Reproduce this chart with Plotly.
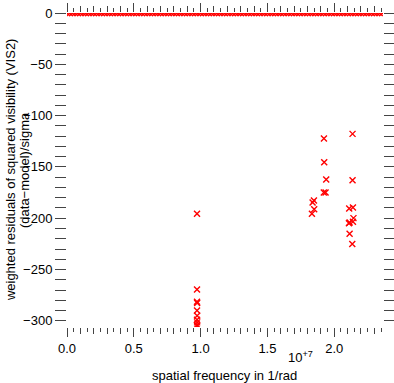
import plotly.graph_objects as go

# spatial frequency in units of 1e7 1/rad, residuals (data-model)/sigma
freq_zero = [0.00, 0.02, 0.04, 0.06, 0.08, 0.10, 0.12, 0.14, 0.16, 0.18,
             0.20, 0.22, 0.24, 0.26, 0.28, 0.30, 0.32, 0.34, 0.36, 0.38,
             0.40, 0.42, 0.44, 0.46, 0.48, 0.50, 0.52, 0.54, 0.56, 0.58,
             0.60, 0.62, 0.64, 0.66, 0.68, 0.70, 0.72, 0.74, 0.76, 0.78,
             0.80, 0.82, 0.84, 0.86, 0.88, 0.90, 0.92, 0.94, 0.96, 0.98,
             1.00, 1.02, 1.04, 1.06, 1.08, 1.10, 1.12, 1.14, 1.16, 1.18,
             1.20, 1.22, 1.24, 1.26, 1.28, 1.30, 1.32, 1.34, 1.36, 1.38,
             1.40, 1.42, 1.44, 1.46, 1.48, 1.50, 1.52, 1.54, 1.56, 1.58,
             1.60, 1.62, 1.64, 1.66, 1.68, 1.70, 1.72, 1.74, 1.76, 1.78,
             1.80, 1.82, 1.84, 1.86, 1.88, 1.90, 1.92, 1.94, 1.96, 1.98,
             2.00, 2.02, 2.04, 2.06, 2.08, 2.10, 2.12, 2.14, 2.16, 2.18,
             2.20, 2.22, 2.24, 2.26, 2.28, 2.30, 2.32, 2.34, 2.36]
resid_zero = [0.0 for _ in freq_zero]

freq_a = [0.973, 0.973, 0.973, 0.974, 0.973, 0.974, 0.973, 0.974, 0.973, 0.974]
resid_a = [-195.7, -269.4, -281.4, -282.5, -290.0, -295.0, -299.0, -301.5, -303.8, -305.0]

freq_b = [1.848, 1.838, 1.850, 1.833]
resid_b = [-182.7, -184.7, -191.2, -195.7]

freq_c = [1.923, 1.925, 1.940, 1.922, 1.935]
resid_c = [-122.4, -145.4, -162.3, -175.0, -175.0]

freq_d = [2.137, 2.137, 2.112, 2.140, 2.144, 2.115, 2.140, 2.110, 2.115, 2.135]
resid_d = [-117.8, -162.9, -190.5, -189.6, -199.9, -204.2, -203.5, -205.0, -215.2, -225.2]

x_tickvals = [0.0, 0.5, 1.0, 1.5, 2.0]
x_ticktext = ["0.0", "0.5", "1.0", "1.5", "2.0"]
y_tickvals = [0, -50, -100, -150, -200, -250, -300]

x_all = freq_zero + freq_a + freq_b + freq_c + freq_d
y_all = resid_zero + resid_a + resid_b + resid_c + resid_d

RED = "#ff0000"
TICK = "#444444"
FONT = "Liberation Sans, Arial, Helvetica, sans-serif"

fig = go.Figure()
fig.add_trace(go.Scatter(
    x=x_all, y=y_all, mode="markers", cliponaxis=True,
    marker=dict(symbol="x-thin", size=6, line=dict(color=RED, width=1.4), color=RED),
    hoverinfo="skip",
))
# helper trace for the finest tick layer
fig.add_trace(go.Scatter(x=[None], y=[None], xaxis="x2", yaxis="y", mode="markers",
                         showlegend=False, hoverinfo="skip"))

X_RANGE = [0, 2.365]
Y_RANGE = [-306, 0]

fig.update_layout(
    width=394, height=383,
    margin=dict(l=67, r=11, t=13, b=56, autoexpand=False),
    plot_bgcolor="white", paper_bgcolor="white",
    showlegend=False,
    font=dict(family=FONT, size=13, color="black"),
    xaxis=dict(
        range=X_RANGE, showgrid=False, zeroline=False, showline=False,
        automargin=False,
        ticks="outside", ticklen=9, tickwidth=1, tickcolor=TICK,
        mirror="allticks",
        tickmode="array", tickvals=x_tickvals, ticktext=x_ticktext,
        minor=dict(dtick=0.1, tick0=0, ticks="outside", ticklen=6,
                   tickcolor=TICK, tickwidth=1, showgrid=False),
        tickfont=dict(size=13, color="black"),
    ),
    xaxis2=dict(
        overlaying="x", anchor="y", side="bottom", automargin=False,
        range=X_RANGE, showgrid=False, zeroline=False, showline=False,
        ticks="outside", ticklen=4, tickwidth=1, tickcolor=TICK,
        mirror="allticks", dtick=0.05, tick0=0, showticklabels=False,
    ),
    yaxis=dict(
        range=Y_RANGE, showgrid=False, zeroline=False, showline=False,
        automargin=False,
        ticks="outside", ticklen=11, tickwidth=1, tickcolor=TICK,
        mirror="allticks",
        tickmode="array", tickvals=y_tickvals,
        minor=dict(dtick=10, tick0=0, ticks="outside", ticklen=7,
                   tickcolor=TICK, tickwidth=1, showgrid=False),
        tickfont=dict(size=13, color="black"),
    ),
    annotations=[
        dict(text="10<sup>+7</sup>", xref="paper", yref="paper",
             x=0.74, y=-0.0955, xanchor="center", yanchor="middle",
             showarrow=False, font=dict(size=13, color="black")),
        dict(text="spatial frequency in 1/rad", xref="paper", yref="paper",
             x=0.497, y=-0.153, xanchor="center", yanchor="middle",
             showarrow=False, font=dict(size=13, color="black")),
        dict(text="weighted residuals of squared visibility (VIS2)",
             xref="paper", yref="paper", x=-0.180, y=0.5,
             xanchor="center", yanchor="middle", textangle=-90,
             showarrow=False, font=dict(size=13, color="black")),
        dict(text="(data\u2212model)/sigma",
             xref="paper", yref="paper", x=-0.136, y=0.5,
             xanchor="center", yanchor="middle", textangle=-90,
             showarrow=False, font=dict(size=13, color="black")),
    ],
)

fig.write_html(
    "out.html",
    config={"displayModeBar": False},
    post_script="document.body.style.margin='0';document.body.style.padding='0';document.body.style.overflow='hidden';",
)
